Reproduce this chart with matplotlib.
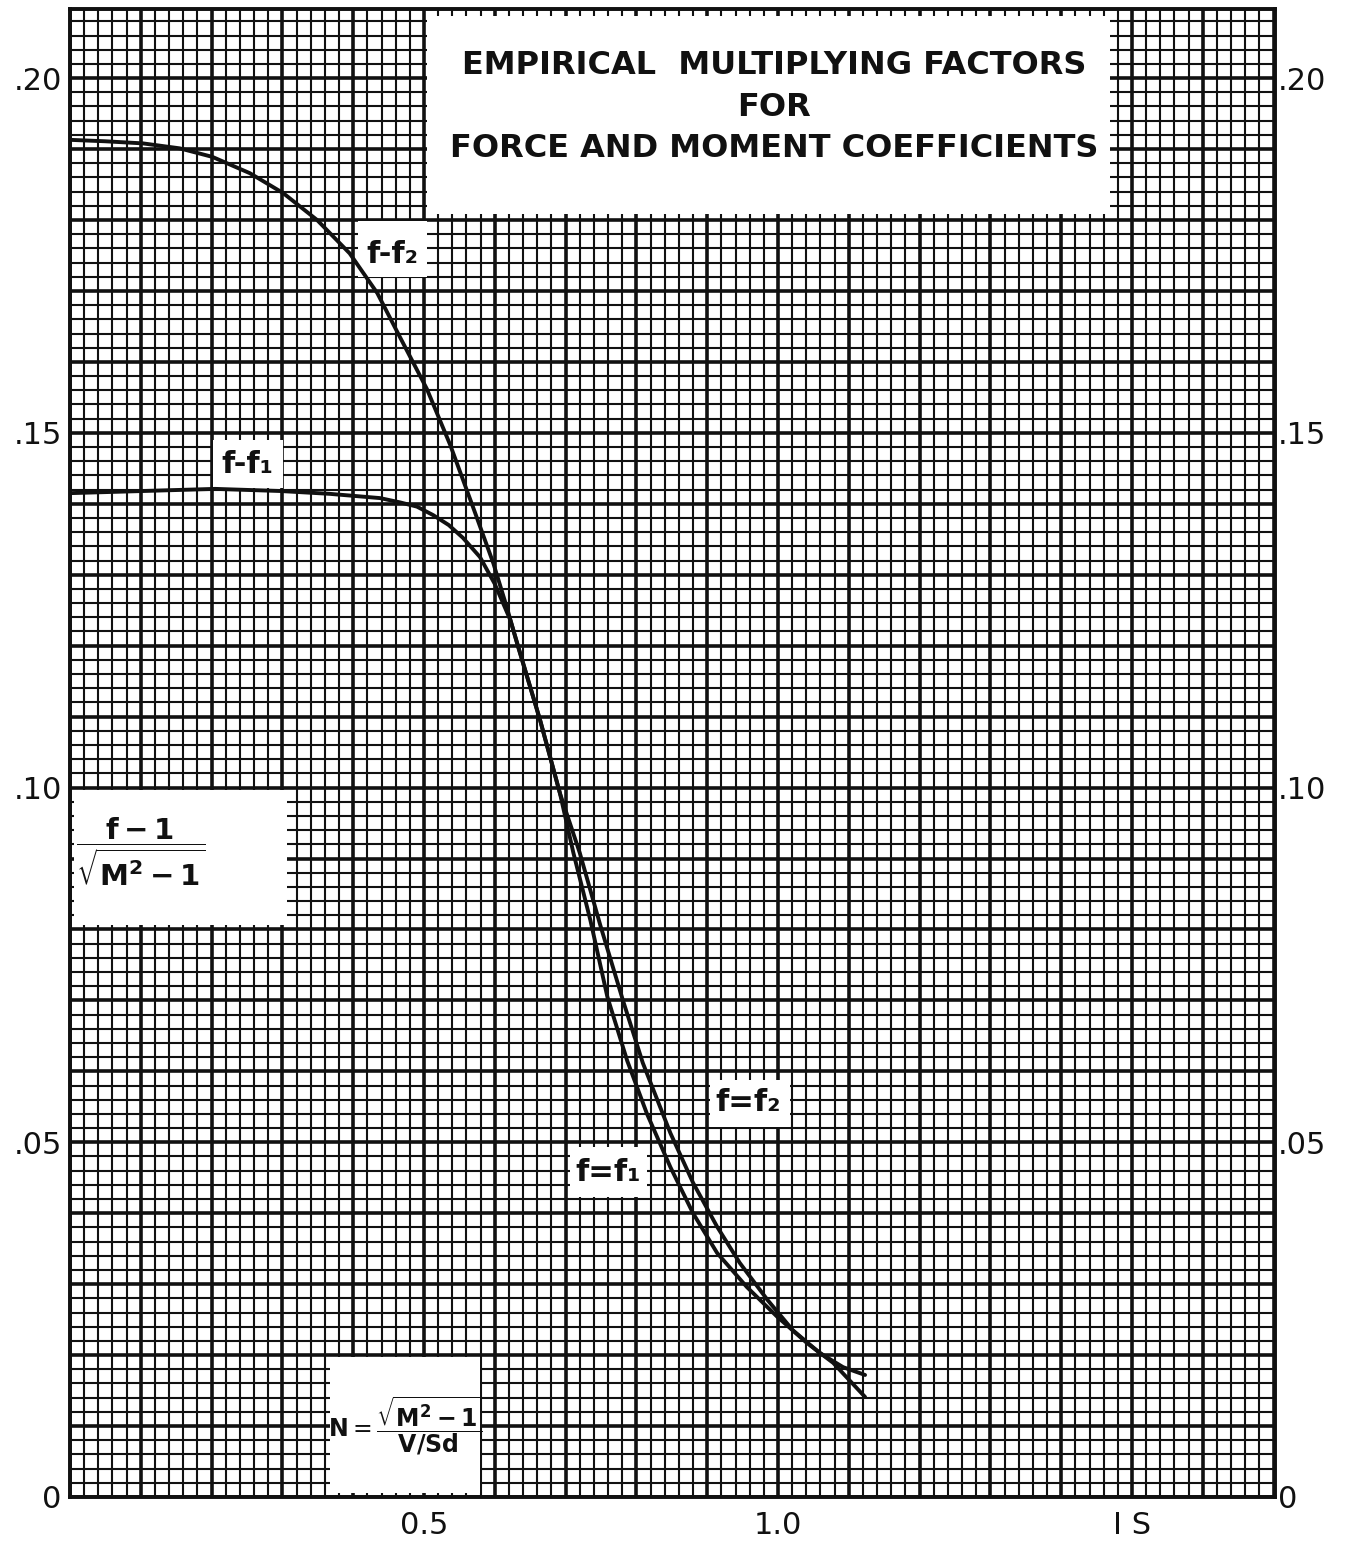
"""
Empirical multiplying factors for force and moment coefficients —
redrawn from a scanned graph-paper chart.
"""

import numpy as np
import matplotlib
matplotlib.use('Agg')   # no display
import matplotlib.pyplot as plt
from matplotlib.patches import Rectangle

# ── Data ──────────────────────────────────────────────────────────────────────
F2_X = [0.000, 0.049, 0.103, 0.155, 0.201, 0.254, 0.301, 0.349, 0.395, 0.434,
        0.466, 0.504, 0.537, 0.569, 0.598, 0.617, 0.633, 0.664, 0.692, 0.720,
        0.749, 0.781, 0.809, 0.848, 0.880, 0.914, 0.946, 0.985, 1.021, 1.059,
        1.092, 1.123]
F2_Y = [0.1913, 0.1911, 0.1908, 0.1901, 0.1889, 0.1866, 0.1838, 0.1800, 0.1753, 0.1697,
        0.1635, 0.1562, 0.1483, 0.1396, 0.1316, 0.1254, 0.1198, 0.1095, 0.0992, 0.0908,
        0.0806, 0.0700, 0.0612, 0.0513, 0.0443, 0.0381, 0.0330, 0.0278, 0.0235, 0.0203,
        0.0183, 0.0172]

F1_X = [0.000, 0.103, 0.205, 0.297, 0.367, 0.438, 0.466, 0.490, 0.513, 0.535,
        0.555, 0.579, 0.600, 0.622, 0.664, 0.692, 0.711, 0.735, 0.759, 0.787,
        0.815, 0.848, 0.880, 0.914, 0.956, 0.999, 1.041, 1.078, 1.123]
F1_Y = [0.1415, 0.1418, 0.1421, 0.1418, 0.1414, 0.1408, 0.1402, 0.1396, 0.1384, 0.1370,
        0.1352, 0.1325, 0.1287, 0.1236, 0.1095, 0.0992, 0.0908, 0.0813, 0.0705, 0.0615,
        0.0540, 0.0465, 0.0400, 0.0344, 0.0296, 0.0254, 0.0217, 0.0189, 0.0141]

Y_TICKS        = [0, 0.05, 0.10, 0.15, 0.20]
Y_LEFT_LABELS  = ['0', '.05', '.10', '.15', '.20']
Y_RIGHT_LABELS = ['0', '.05', '.10', '.15', '.20']
X_TICKS        = [0.5, 1.0, 1.5]
X_LABELS       = ['0.5', '1.0', 'I S']

TITLE_LINES = ['EMPIRICAL  MULTIPLYING FACTORS', 'FOR', 'FORCE AND MOMENT COEFFICIENTS']

# ── Config ────────────────────────────────────────────────────────────────────
XMAX, YMAX = 1.702, 0.2097
INK = '#111111'

plt.rcParams['font.family'] = ['DejaVu Sans']
plt.rcParams['mathtext.fontset'] = 'dejavusans'

fig = plt.figure(figsize=(13.46, 15.43), dpi=100)
ax = fig.add_axes([70 / 1346, 1 - 1497 / 1543, 1205 / 1346, (1497 - 9.3) / 1543])
ax.set_xlim(0, XMAX)
ax.set_ylim(0, YMAX)

# ── Graph-paper grid ──────────────────────────────────────────────────────────
for i, x in enumerate(np.arange(0, XMAX, 0.02)):
    ax.axvline(x, color=INK, lw=2.6 if i % 5 == 0 else 1.5, zorder=1)
for i, y in enumerate(np.arange(0, YMAX, 0.002)):
    ax.axhline(y, color=INK, lw=2.6 if i % 5 == 0 else 1.5, zorder=1)

# ── White label panels cut out of the grid ────────────────────────────────────
boxes = [
    (0.504, 0.1808, 0.965, 0.0280),   # title
    (0.407, 0.1720, 0.097, 0.0078),   # f-f2
    (0.202, 0.1422, 0.099, 0.0068),   # f-f1
    (0.006, 0.0806, 0.300, 0.0190),   # (f-1)/sqrt(M^2-1)
    (0.367, 0.0005, 0.212, 0.0192),   # N = ...
    (0.904, 0.0521, 0.113, 0.0067),   # f=f2
    (0.706, 0.0423, 0.109, 0.0070),   # f=f1
]
for bx, by, bw, bh in boxes:
    ax.add_patch(Rectangle((bx, by), bw, bh, facecolor='white', edgecolor='none', zorder=2))

# ── Curves ────────────────────────────────────────────────────────────────────
ax.plot(F2_X, F2_Y, color=INK, lw=2.8, zorder=3, solid_capstyle='round', solid_joinstyle='round')
ax.plot(F1_X, F1_Y, color=INK, lw=2.8, zorder=3, solid_capstyle='round', solid_joinstyle='round')

# ── Text ──────────────────────────────────────────────────────────────────────
for txt, ty in zip(TITLE_LINES, [0.2018, 0.1959, 0.1901]):
    ax.text(0.995, ty, txt, fontsize=23, fontweight='bold', ha='center', va='center',
            color=INK, zorder=4)

lab = dict(fontsize=22, fontweight='bold', ha='center', va='center', color=INK, zorder=4)
ax.text(0.455, 0.1752, 'f-f₂', **lab)
ax.text(0.250, 0.1455, 'f-f₁', **lab)
ax.text(0.958, 0.0556, 'f=f₂', **lab)
ax.text(0.760, 0.0457, 'f=f₁', **lab)
ax.text(0.100, 0.0910, r'$\dfrac{\mathbf{f-1}}{\sqrt{\mathbf{M^{2}-1}}}$', fontsize=21,
        ha='center', va='center', color=INK, zorder=4)
ax.text(0.474, 0.0100, r'$\mathbf{N}=\dfrac{\sqrt{\mathbf{M^{2}-1}}}{\mathbf{V/Sd}}$', fontsize=17,
        ha='center', va='center', color=INK, zorder=4)

# ── Axes, ticks, labels ──────────────────────────────────────────────────────
ax.set_yticks(Y_TICKS, Y_LEFT_LABELS)
ax.set_xticks(X_TICKS, X_LABELS)
ax.tick_params(axis='both', length=0, labelsize=22, labelcolor=INK, pad=6)
ax.tick_params(axis='x', pad=10)

ay = ax.twinx()
ay.set_ylim(ax.get_ylim())
ay.set_yticks(Y_TICKS, Y_RIGHT_LABELS)
ay.tick_params(axis='y', length=0, labelsize=22, labelcolor=INK, pad=2)

for a in (ax, ay):
    for s in a.spines.values():
        s.set_linewidth(2.6)
        s.set_color(INK)

fig.savefig('out.png', dpi=100, facecolor='white')
